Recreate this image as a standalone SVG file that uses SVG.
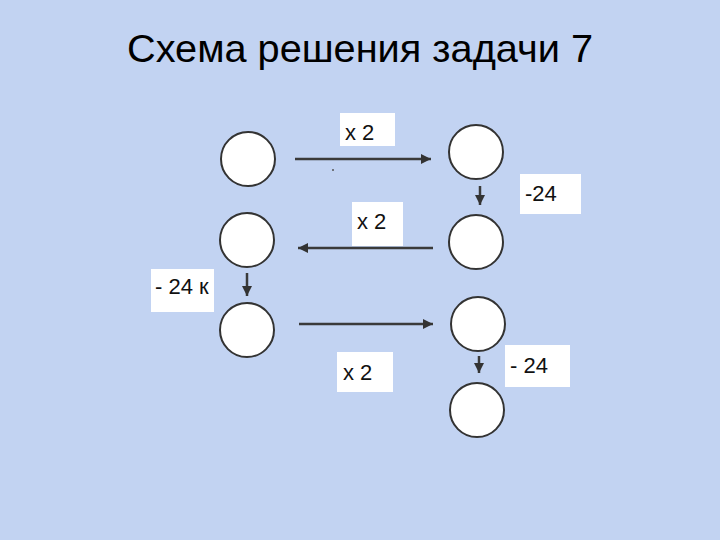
<svg xmlns="http://www.w3.org/2000/svg" width="720" height="540" viewBox="0 0 720 540">
<defs>
<marker id="ah" viewBox="0 0 10 10" refX="10" refY="5" markerWidth="4" markerHeight="4" markerUnits="strokeWidth" orient="auto">
<path d="M0,0 L10,5 L0,10 z" fill="#333"/>
</marker>
<style>
.n{fill:#fff;stroke:#333;stroke-width:2}
.c{stroke:#3a3a3a;stroke-width:2.5;fill:none;marker-end:url(#ah)}
.lb{fill:#fff}
.t{font-family:"Liberation Sans",Arial,sans-serif;font-size:22px;fill:#111}
</style>
</defs>
<rect width="720" height="540" fill="#c2d3f2"/>
<text x="127" y="62" font-family="'Liberation Sans',Arial,sans-serif" font-size="39" textLength="466" lengthAdjust="spacingAndGlyphs" fill="#000">Схема решения задачи 7</text>
<g id="connectors">
<line class="c" x1="295" y1="159" x2="431" y2="159"/>
<line class="c" x1="433" y1="248" x2="298" y2="248"/>
<line class="c" x1="299" y1="324" x2="433" y2="324"/>
<line class="c" x1="480" y1="186" x2="480" y2="205"/>
<line class="c" x1="247" y1="273" x2="247" y2="296"/>
<line class="c" x1="479" y1="356" x2="479" y2="373"/>
<circle cx="333" cy="170" r="1" fill="#555"/>
</g>
<g id="node-l1"><circle class="n" cx="248" cy="159" r="27"/></g>
<g id="node-l2"><circle class="n" cx="247" cy="240" r="27"/></g>
<g id="node-l3"><circle class="n" cx="247" cy="330" r="27"/></g>
<g id="node-r1"><circle class="n" cx="476" cy="152" r="27"/></g>
<g id="node-r2"><circle class="n" cx="476" cy="242" r="27"/></g>
<g id="node-r3"><circle class="n" cx="478" cy="324" r="27"/></g>
<g id="node-r4"><circle class="n" cx="477" cy="410" r="27"/></g>
<g id="label-1"><rect class="lb" x="340" y="113" width="55" height="33"/><text class="t" x="345" y="140">x 2</text></g>
<g id="label-2"><rect class="lb" x="520" y="174" width="61" height="40"/><text class="t" x="525" y="201">-24</text></g>
<g id="label-3"><rect class="lb" x="352" y="202" width="51" height="44"/><text class="t" x="357" y="229">x 2</text></g>
<g id="label-4"><rect class="lb" x="151" y="269" width="63" height="43"/><text class="t" x="155" y="294">- 24 к</text></g>
<g id="label-5"><rect class="lb" x="337" y="352" width="56" height="40"/><text class="t" x="343" y="380">x 2</text></g>
<g id="label-6"><rect class="lb" x="505" y="345" width="65" height="42"/><text class="t" x="510" y="373">- 24</text></g>
</svg>
